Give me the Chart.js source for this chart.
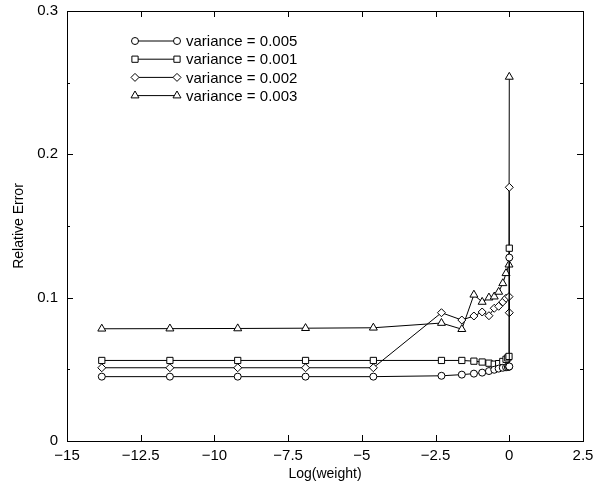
<!DOCTYPE html>
<html>
<head>
<meta charset="utf-8">
<script src="https://cdn.jsdelivr.net/npm/chart.js@4.4.0/dist/chart.umd.min.js"></script>
<style>
  html, body { margin: 0; padding: 0; background: #fff; }
  #chart { display: block; }
</style>
</head>
<body>
<canvas id="chart" width="596" height="490"></canvas>
<script>
// log(weight) for weights 1e-6 ... 0.9
const logWeight = [-13.82, -11.51, -9.21, -6.91, -4.61, -2.30, -1.61, -1.20, -0.92, -0.69, -0.51, -0.36, -0.22, -0.11];

// variance = 0.005 (circles)
const errV005 = [0.0449, 0.0449, 0.0449, 0.0449, 0.0449, 0.0455, 0.0463, 0.0470, 0.0477, 0.0488, 0.0497, 0.0505, 0.0511, 0.0514];
const tailXV005 = [-0.05, -0.01, 0, 0];
const tailYV005 = [0.0516, 0.0518, 0.0520, 0.1280];

// variance = 0.001 (squares)
const errV001 = [0.0562, 0.0562, 0.0562, 0.0562, 0.0562, 0.0562, 0.0562, 0.0557, 0.0551, 0.0543, 0.0536, 0.0540, 0.0555, 0.0570];
const tailXV001 = [-0.05, -0.01, 0];
const tailYV001 = [0.0580, 0.0590, 0.1345];

// variance = 0.002 (diamonds)
const errV002 = [0.0511, 0.0511, 0.0511, 0.0511, 0.0511, 0.0895, 0.0844, 0.0872, 0.0900, 0.0874, 0.0926, 0.0940, 0.0970, 0.0996];
const tailXV002 = [-0.01, 0, 0];
const tailYV002 = [0.1007, 0.0895, 0.1770];

// variance = 0.003 (triangles)
const errV003 = [0.0783, 0.0784, 0.0785, 0.0787, 0.0790, 0.0823, 0.0780, 0.1020, 0.0970, 0.1000, 0.1007, 0.1040, 0.1100, 0.1170];
const tailXV003 = [-0.01, 0];
const tailYV003 = [0.1230, 0.2540];

const seriesLabels = ['variance = 0.005', 'variance = 0.001', 'variance = 0.002', 'variance = 0.003'];
const xTicks = [-15, -12.5, -10, -7.5, -5, -2.5, 0, 2.5];
const yTicks = [0, 0.1, 0.2, 0.3];
const yMinorTicks = [0.05, 0.15, 0.25];

const markers = [
  { pointStyle: 'circle', radius: 3.5 },
  { pointStyle: 'rect', radius: 4.4 },
  { pointStyle: 'rectRot', radius: 4 },
  { pointStyle: 'triangle', radius: 4.6 }
];

function points(xs, ys, tx, ty) {
  const pts = xs.map((x, i) => ({ x: x, y: ys[i] }));
  tx.forEach((x, i) => pts.push({ x: x, y: ty[i] }));
  return pts;
}

const seriesPoints = [
  points(logWeight, errV005, tailXV005, tailYV005),
  points(logWeight, errV001, tailXV001, tailYV001),
  points(logWeight, errV002, tailXV002, tailYV002),
  points(logWeight, errV003, tailXV003, tailYV003)
];

const FONT = '"Liberation Sans", Arial, Helvetica, sans-serif';

// frame, inward ticks, axis titles and the legend
const framePlugin = {
  id: 'frame',
  afterDraw(chart) {
    const ctx = chart.ctx;
    const a = chart.chartArea;
    const xs = chart.scales.x, ys = chart.scales.y;
    ctx.save();
    ctx.strokeStyle = '#000';
    ctx.lineWidth = 1;
    ctx.strokeRect(Math.round(a.left) + 0.5, Math.round(a.top) + 0.5,
      Math.round(a.right - a.left), Math.round(a.bottom - a.top));
    ctx.beginPath();
    xTicks.forEach(v => {
      const px = Math.round(xs.getPixelForValue(v)) + 0.5;
      ctx.moveTo(px, a.bottom); ctx.lineTo(px, a.bottom - 6);
      ctx.moveTo(px, a.top); ctx.lineTo(px, a.top + 6);
    });
    yTicks.forEach(v => {
      const py = Math.round(ys.getPixelForValue(v)) + 0.5;
      ctx.moveTo(a.left, py); ctx.lineTo(a.left + 6, py);
      ctx.moveTo(a.right, py); ctx.lineTo(a.right - 6, py);
    });
    yMinorTicks.forEach(v => {
      const py = Math.round(ys.getPixelForValue(v)) + 0.5;
      ctx.moveTo(a.left, py); ctx.lineTo(a.left + 3, py);
      ctx.moveTo(a.right, py); ctx.lineTo(a.right - 3, py);
    });
    ctx.stroke();

    // axis titles
    ctx.fillStyle = '#000';
    ctx.font = '14px ' + FONT;
    ctx.textAlign = 'center';
    ctx.textBaseline = 'middle';
    ctx.fillText('Log(weight)', (a.left + a.right) / 2, 474);
    ctx.save();
    ctx.translate(19, (a.top + a.bottom) / 2);
    ctx.rotate(-Math.PI / 2);
    ctx.fillText('Relative Error', 0, 0);
    ctx.restore();

    // legend
    ctx.font = '15px ' + FONT;
    ctx.textAlign = 'left';
    seriesLabels.forEach((label, i) => {
      const y = 41 + i * 18.2;
      ctx.beginPath();
      ctx.moveTo(135, y); ctx.lineTo(177, y);
      ctx.stroke();
      [135, 177].forEach(x => {
        ctx.fillStyle = '#fff';
        ctx.strokeStyle = '#000';
        Chart.helpers.drawPoint(ctx, {
          pointStyle: markers[i].pointStyle, radius: markers[i].radius,
          rotation: 0, borderWidth: 1
        }, x, y);
      });
      ctx.fillStyle = '#000';
      ctx.fillText(label, 186, y + 1);
    });
    ctx.restore();
  }
};

new Chart(document.getElementById('chart'), {
  type: 'scatter',
  data: {
    datasets: seriesPoints.map((pts, i) => ({
      label: seriesLabels[i],
      data: pts,
      showLine: true,
      borderColor: '#000',
      borderWidth: 1,
      pointStyle: markers[i].pointStyle,
      pointRadius: markers[i].radius,
      pointBorderColor: '#000',
      pointBorderWidth: 1,
      pointBackgroundColor: '#fff',
      tension: 0
    }))
  },
  options: {
    responsive: false,
    animation: false,
    layout: { padding: { top: 11, right: 13, left: 0, bottom: 0 } },
    plugins: { legend: { display: false }, tooltip: { enabled: false } },
    scales: {
      x: {
        type: 'linear', min: -15, max: 2.5,
        grid: { display: false, drawTicks: false },
        border: { display: false },
        afterBuildTicks: s => { s.ticks = xTicks.map(v => ({ value: v })); },
        afterFit: s => { s.height = 49; s.paddingLeft = 0; s.paddingRight = 0; },
        ticks: {
          color: '#000', padding: 6, maxRotation: 0, autoSkip: false,
          font: { family: FONT, size: 15 },
          callback: v => String(v).replace('-', '\u2212')
        }
      },
      y: {
        type: 'linear', min: 0, max: 0.3,
        grid: { display: false, drawTicks: false },
        border: { display: false },
        afterBuildTicks: s => { s.ticks = yTicks.map(v => ({ value: v })); },
        afterFit: s => { s.width = 67; s.paddingTop = 0; s.paddingBottom = 0; },
        ticks: {
          color: '#000', padding: 9,
          font: { family: FONT, size: 15 },
          callback: v => v === 0 ? '0' : v.toFixed(1)
        }
      }
    }
  },
  plugins: [framePlugin]
});
</script>
</body>
</html>
